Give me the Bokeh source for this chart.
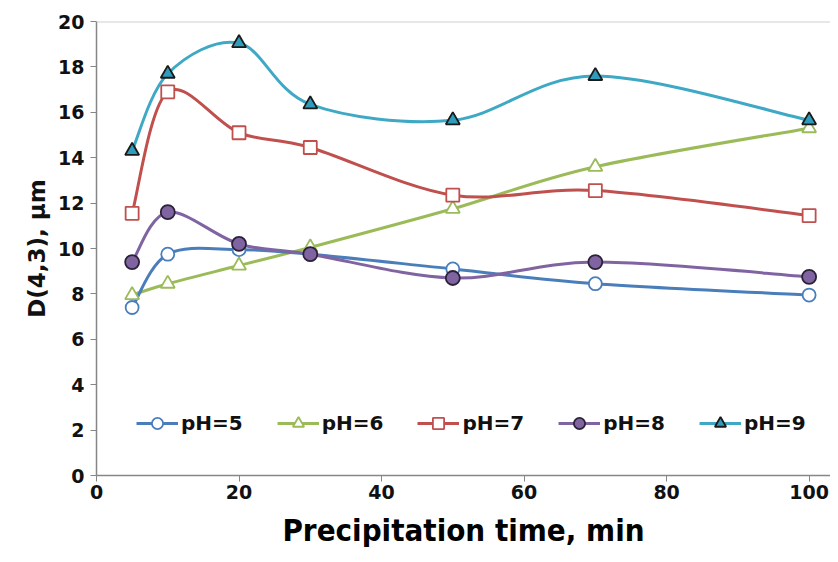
from bokeh.plotting import figure
from bokeh.models import Legend, LegendItem, Span, FixedTicker, ColumnDataSource
from bokeh.embed import file_html
from bokeh.resources import INLINE

time_min = [5, 10, 20, 30, 50, 70, 100]
ph5 = [7.4, 9.75, 9.95, 9.75, 9.1, 8.45, 7.95]
ph6 = [7.95, 8.45, 9.25, 10.05, 11.75, 13.6, 15.3]
ph7 = [11.55, 16.9, 15.1, 14.45, 12.35, 12.55, 11.45]
ph8 = [9.4, 11.6, 10.2, 9.75, 8.7, 9.4, 8.75]
ph9 = [14.3, 17.7, 19.05, 16.35, 15.65, 17.6, 15.65]
labels = ["pH=5", "pH=6", "pH=7", "pH=8", "pH=9"]
x_ticks = [0, 20, 40, 60, 80, 100]
y_ticks = [0, 2, 4, 6, 8, 10, 12, 14, 16, 18, 20]
x_title = "Precipitation time, min"
y_title = "D(4,3), μm"

series = [ph5, ph6, ph7, ph8, ph9]
line_colors = ["#4a7ebb", "#9bbb59", "#c0504d", "#8064a2", "#3fa9c5"]
markers = ["circle", "triangle", "square", "circle", "triangle"]
fills = ["white", "white", "white", "#8064a2", "#2f9cbb"]
outlines = ["#4a7ebb", "#9bbb59", "#c0504d", "#2b2238", "#1a1a1a"]
sizes = [13, 14, 13, 14, 14]

p = figure(width=830, height=554, output_backend="svg", toolbar_location=None,
           x_range=(0, 103), y_range=(0, 20),
           min_border_left=96, min_border_right=0, min_border_top=21, min_border_bottom=79)
p.outline_line_color = None
p.xgrid.visible = False
p.ygrid.visible = False
p.background_fill_color = "white"
p.border_fill_color = "white"

p.add_layout(Span(location=20, dimension="width", line_color="#d0d0d0", line_width=2))

for ax in (p.xaxis[0], p.yaxis[0]):
    ax.axis_line_color = "#868686"
    ax.axis_line_width = 1.5
    ax.major_tick_line_color = "#868686"
    ax.major_tick_in = 0
    ax.major_tick_out = 6
    ax.minor_tick_line_color = None
    ax.major_label_text_font = "DejaVu Sans"
    ax.major_label_text_font_style = "bold"
    ax.major_label_text_font_size = "19px"
    ax.major_label_text_color = "#111111"
p.xaxis.ticker = FixedTicker(ticks=x_ticks)
p.yaxis.ticker = FixedTicker(ticks=y_ticks)
p.xaxis.major_label_standoff = 3
p.yaxis.major_label_standoff = 6

p.xaxis.axis_label = x_title
p.xaxis.axis_label_text_font = "DejaVu Sans Condensed"
p.xaxis.axis_label_text_font_style = "bold"
p.xaxis.axis_label_text_font_size = "31px"
p.xaxis.axis_label_text_color = "black"
p.xaxis.axis_label_standoff = 10

p.yaxis.axis_label = y_title
p.yaxis.axis_label_text_font = "DejaVu Sans"
p.yaxis.axis_label_text_font_style = "bold"
p.yaxis.axis_label_text_font_size = "23px"
p.yaxis.axis_label_text_color = "#111111"
p.yaxis.axis_label_standoff = 5


def smooth_segments(xs, ys):
    n = len(xs)
    out = dict(x0=[], y0=[], x1=[], y1=[], cx0=[], cy0=[], cx1=[], cy1=[])
    for i in range(n - 1):
        a = i - 1 if i > 0 else i
        d = i + 2 if i + 2 < n else i + 1
        out["x0"].append(xs[i]); out["y0"].append(ys[i])
        out["x1"].append(xs[i + 1]); out["y1"].append(ys[i + 1])
        out["cx0"].append(xs[i] + (xs[i + 1] - xs[a]) / 6)
        out["cy0"].append(ys[i] + (ys[i + 1] - ys[a]) / 6)
        out["cx1"].append(xs[i + 1] - (xs[d] - xs[i]) / 6)
        out["cy1"].append(ys[i + 1] - (ys[d] - ys[i]) / 6)
    return ColumnDataSource(out)


order = [1, 0, 2, 3, 4]
rend = {}
for k in order:
    ys = series[k]
    src = smooth_segments(time_min, ys)
    p.bezier(x0="x0", y0="y0", x1="x1", y1="y1", cx0="cx0", cy0="cy0", cx1="cx1", cy1="cy1",
             source=src, line_color=line_colors[k], line_width=3)
for k in order:
    ys = series[k]
    # single-point line: draws nothing on the plot, only provides the legend line
    ln = p.line(time_min[:1], ys[:1], line_color=line_colors[k], line_width=3)
    sc = p.scatter(time_min, ys, marker=markers[k], size=sizes[k], fill_color=fills[k],
                   line_color=outlines[k], line_width=1.8)
    rend[k] = (ln, sc)
items = [LegendItem(label=labels[k], renderers=list(rend[k])) for k in range(5)]

legend = Legend(items=items, orientation="horizontal", location=(40, 38))
legend.background_fill_alpha = 0
legend.border_line_color = None
legend.padding = 0
legend.margin = 0
legend.spacing = 34
legend.glyph_width = 42
legend.glyph_height = 28
legend.label_standoff = 3
legend.label_text_font = "DejaVu Sans"
legend.label_text_font_style = "bold"
legend.label_text_font_size = "20px"
legend.label_text_color = "#111111"
p.add_layout(legend, "center")

open("out.html", "w").write(file_html(p, INLINE))
